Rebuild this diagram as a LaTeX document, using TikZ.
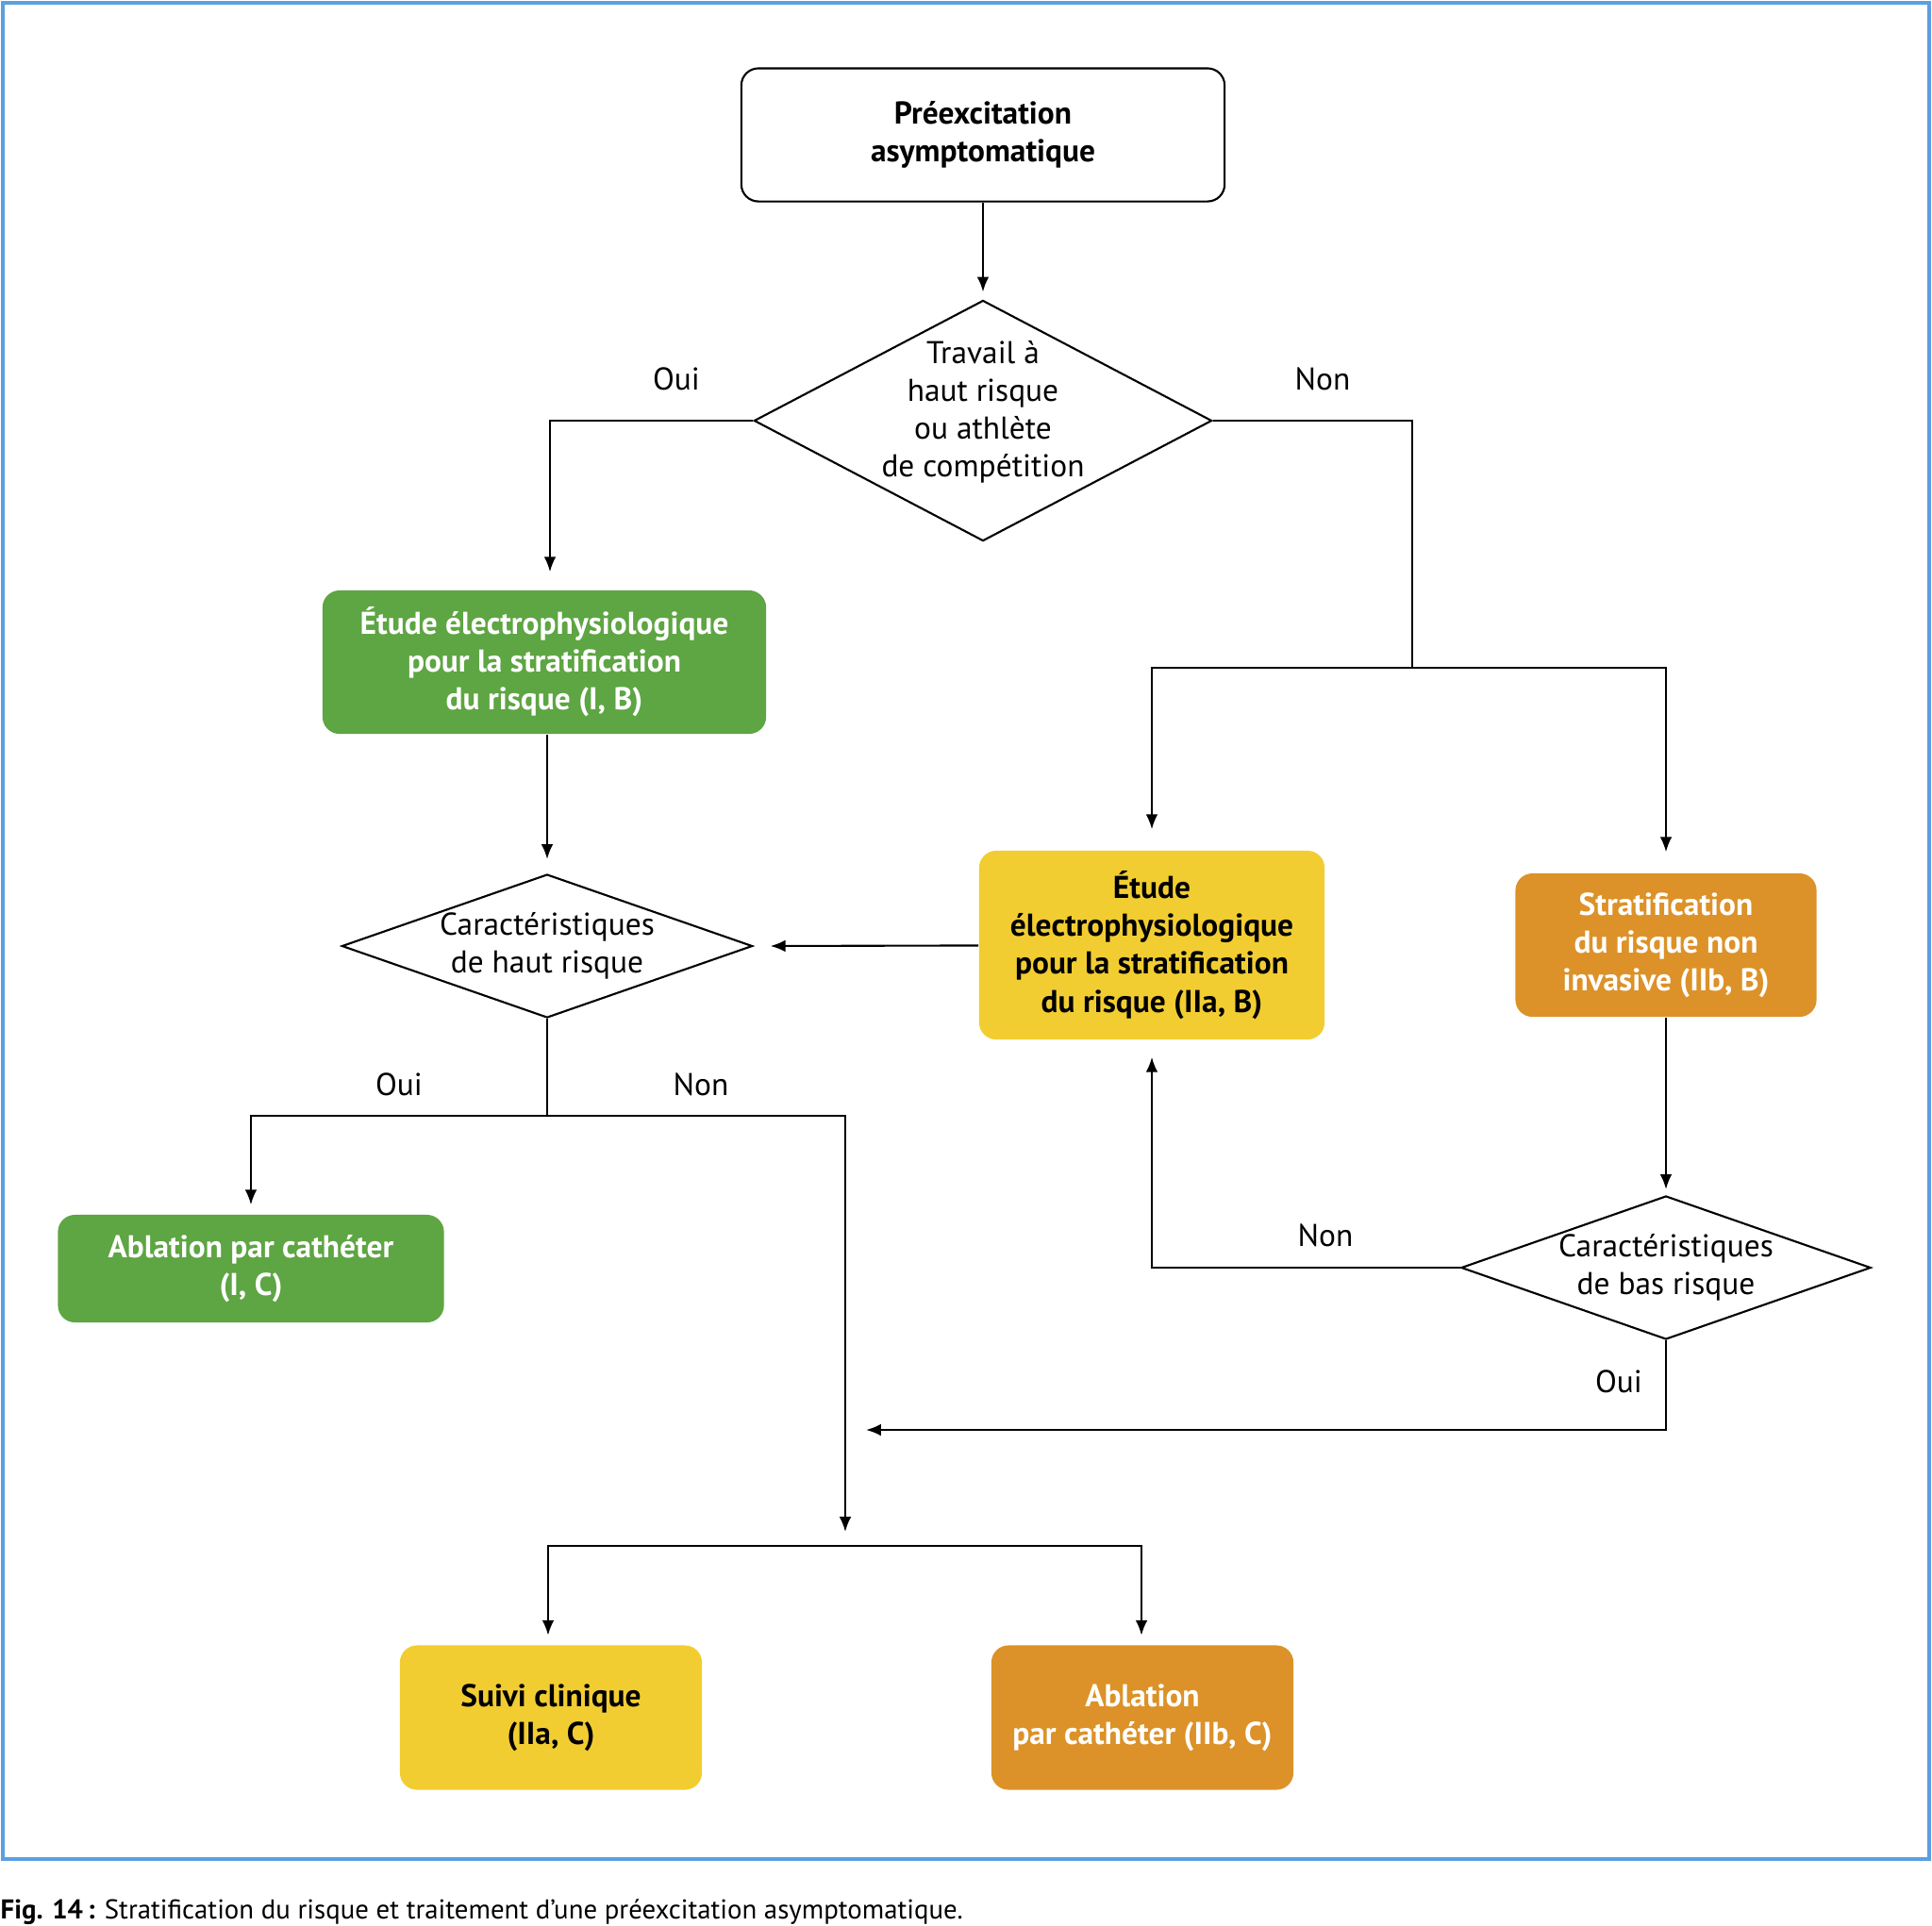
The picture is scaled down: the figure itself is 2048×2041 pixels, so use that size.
\documentclass[tikz,border=0pt]{standalone}
\usepackage{fontspec}
\setmainfont{PT Sans}
\usetikzlibrary{shapes.geometric,arrows.meta}
\definecolor{vert}{RGB}{94,165,67}
\definecolor{jaune}{RGB}{242,205,50}
\definecolor{orange}{RGB}{220,146,40}
\definecolor{cadre}{RGB}{90,160,225}
\begin{document}
\begin{tikzpicture}[x=0.01cm,y=-0.01cm]

  \tikzset{box/.style={rectangle,rounded corners=0.18cm,align=center,inner sep=0pt,
      font=\fontsize{9.5}{11.4}\selectfont\bfseries},
    question/.style={diamond,draw,line width=0.6pt,align=center,inner sep=0pt,
      font=\fontsize{9.5}{11.4}\selectfont},
    fleche/.style={->,>={Latex[length=4.5pt,width=3.6pt]},draw,line width=0.6pt},
    trait/.style={draw,line width=0.6pt}}
  \useasboundingbox (0,0) rectangle (2048,2041);
  \draw[cadre,line width=1.2pt] (3,3) rectangle (2045,1971);

  \node[box,draw,line width=0.6pt,minimum width=5.12cm,minimum height=1.41cm] (start) at (1042,143) {Préexcitation\\asymptomatique};
  \node[question,aspect=1.9,inner sep=-3pt,text depth=7pt,minimum width=4.85cm,minimum height=2.55cm] (q1) at (1042,446) {Travail à\\haut risque\\ou athlète\\de compétition};
  \node[box,fill=vert,text=white,minimum width=4.70cm,minimum height=1.52cm] (ep1) at (577,702) {Étude électrophysiologique\\pour la stratification\\du risque (I, B)};
  \node[question,aspect=2.86,minimum width=4.35cm,minimum height=1.52cm] (q2) at (580,1003) {Caractéristiques\\de haut risque};
  \node[box,fill=jaune,minimum width=3.66cm,minimum height=2.00cm] (ep2) at (1221,1002) {Étude\\électrophysiologique\\pour la stratification\\du risque (IIa, B)};
  \node[box,fill=orange,text=white,minimum width=3.19cm,minimum height=1.52cm] (strat) at (1766,1002) {Stratification\\du risque non\\invasive (IIb, B)};
  \node[question,aspect=2.86,minimum width=4.34cm,minimum height=1.52cm] (q3) at (1766,1344) {Caractéristiques\\de bas risque};
  \node[box,fill=vert,text=white,minimum width=4.09cm,minimum height=1.14cm] (abl1) at (266,1345) {Ablation par cathéter\\(I, C)};
  \node[box,fill=jaune,minimum width=3.20cm,minimum height=1.53cm] (suivi) at (584,1821) {Suivi clinique\\(IIa, C)};
  \node[box,fill=orange,text=white,minimum width=3.20cm,minimum height=1.53cm] (abl2) at (1211,1821) {Ablation\\par cathéter (IIb, C)};

  \coordinate (s1) at (1497,708);
  \coordinate (s2) at (580,1183);
  \coordinate (s3) at (896,1639);
  \coordinate (j1) at (896,1624);
  \coordinate (j2) at (918,1516);

  \path[fleche,shorten >=0.08cm] (start) -- (q1);
  \path[fleche,shorten >=0.19cm] (q1.west) -| ([xshift=0.06cm]ep1.north);
  \path[trait] (q1.east) -| (s1);
  \path[fleche,shorten >=0.22cm] (s1) -| (ep2.north);
  \path[fleche,shorten >=0.22cm] (s1) -| (strat.north);
  \path[fleche,shorten >=0.15cm] (q2.north |- ep1.south) -- (q2);
  \path[fleche,shorten >=0.18cm] (ep2) -- (q2.east);
  \path[fleche,shorten >=0.06cm] (strat) -- (q3);
  \path[fleche,shorten >=0.18cm] (q3.west) -| (ep2.south);
  \path[fleche] (q3.south) |- (j2);
  \path[trait] (q2.south) -- (s2);
  \path[fleche,shorten >=0.10cm] (s2) -| (abl1.north);
  \path[fleche] (s2) -| (j1);
  \path[fleche,shorten >=0.10cm] (s3) -| ([xshift=-0.03cm]suivi.north);
  \path[fleche,shorten >=0.10cm] (s3) -| ([xshift=-0.01cm]abl2.north);

  \foreach \n/\txt/\x/\y in {l1/Oui/717/402,l2/Non/1402/402,l3/Oui/423/1150,l4/Non/743/1150,l5/Non/1405/1310,l6/Oui/1716/1465} {
    \node[font=\fontsize{9.5}{11.4}\selectfont] (\n) at (\x,\y) {\txt};
  }

  \node[anchor=base west,inner sep=0pt,font=\fontsize{8.2}{10}\selectfont] (legende) at (0,2034) {\textbf{Fig. 14\,:} Stratification du risque et traitement d’une préexcitation asymptomatique.};
\end{tikzpicture}
\end{document}
